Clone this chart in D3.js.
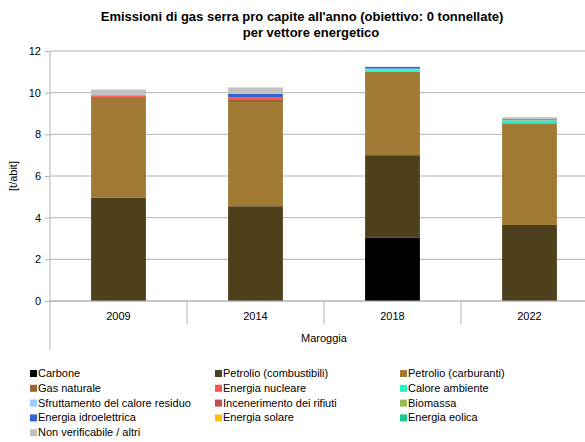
<!DOCTYPE html>
<html><head><meta charset="utf-8">
<script src="https://cdn.jsdelivr.net/npm/d3@7"></script>
<style>body{margin:0;background:#fff}svg{display:block;font-family:"Liberation Sans",Arial,sans-serif}</style>
</head><body><svg id="c" width="585" height="442"></svg>
<script>
const years = ["2009","2014","2018","2022"];
const seriesNames = ["Carbone","Petrolio (combustibili)","Petrolio (carburanti)","Gas naturale","Energia nucleare","Calore ambiente","Sfruttamento del calore residuo","Incenerimento dei rifiuti","Biomassa","Energia idroelettrica","Energia solare","Energia eolica","Non verificabile / altri"];
const seriesColors = ["#000000","#4d401c","#a07a35","#996633","#ff5050","#22f2c8","#99ccff","#c0504d","#9bbb59","#3366cc","#ffc000","#19c890","#c0c0c0"];
// values per series, per year [2009,2014,2018,2022]
const carbone      = [0, 0, 3.05, 0];
const petrolioComb = [4.95, 4.55, 3.95, 3.65];
const petrolioCarb = [4.8, 5.0, 4.0, 4.85];
const gasNaturale  = [0.05, 0.1, 0, 0.03];
const nucleare     = [0.05, 0.1, 0, 0];
const caloreAmb    = [0, 0, 0.12, 0.13];
const sfruttamento = [0.02, 0, 0.03, 0];
const incenerimento= [0, 0.03, 0, 0];
const biomassa     = [0, 0, 0, 0.02];
const idro         = [0.03, 0.17, 0.08, 0.04];
const solare       = [0, 0, 0, 0];
const eolica       = [0, 0, 0, 0.02];
const nonVerif     = [0.25, 0.3, 0.02, 0.08];
const yTicks = [0,2,4,6,8,10,12];
const allSeries = [carbone,petrolioComb,petrolioCarb,gasNaturale,nucleare,caloreAmb,sfruttamento,incenerimento,biomassa,idro,solare,eolica,nonVerif];

const svg = d3.select("#c");
const x = d3.scaleBand().domain(years).range([50, 598]);
const y = d3.scaleLinear().domain([0,12]).range([301, 51]);

// gridlines
svg.append("g").selectAll("line").data(yTicks).join("line")
  .attr("x1",50).attr("x2",585).attr("y1",d=>y(d)).attr("y2",d=>y(d))
  .attr("stroke","#b3b3b3").attr("stroke-width",1);

// bars
const rows = years.map((yr,i)=>{const o={year:yr}; seriesNames.forEach((s,j)=>o[s]=allSeries[j][i]); return o;});
const stack = d3.stack().keys(seriesNames)(rows);
const bw = x.bandwidth()*0.4;
svg.append("g").selectAll("g").data(stack).join("g")
  .attr("fill",(d,i)=>seriesColors[i])
  .selectAll("rect").data(d=>d).join("rect")
  .attr("x",d=>x(d.data.year)+(x.bandwidth()-bw)/2)
  .attr("width",bw)
  .attr("y",d=>y(d[1]))
  .attr("height",d=>Math.max(0,y(d[0])-y(d[1])));

// y axis
const yAxis = d3.axisLeft(y).tickValues(yTicks).tickSize(5).tickPadding(4);
const ga = svg.append("g").attr("transform","translate(50,0)").call(yAxis);
ga.select(".domain").remove();
ga.selectAll(".tick line").attr("stroke","#b3b3b3");
ga.selectAll("text").attr("font-size","11px").attr("fill","#000").attr("font-family","Liberation Sans, Arial, sans-serif");
svg.append("line").attr("x1",50).attr("x2",50).attr("y1",51).attr("y2",350).attr("stroke","#b3b3b3");

// x axis
svg.append("line").attr("x1",50).attr("x2",585).attr("y1",301).attr("y2",301).attr("stroke","#b3b3b3");
svg.append("g").selectAll("line").data(years.slice(1)).join("line")
  .attr("x1",d=>x(d)).attr("x2",d=>x(d)).attr("y1",301).attr("y2",324).attr("stroke","#b3b3b3");
svg.append("g").selectAll("text").data(years).join("text")
  .attr("x",d=>x(d)+x.bandwidth()/2).attr("y",320).attr("text-anchor","middle")
  .attr("font-size","11px").text(d=>d);
svg.append("text").attr("x",324).attr("y",342).attr("text-anchor","middle").attr("font-size","11px").text("Maroggia");

// y label
svg.append("text").attr("transform","translate(17,176) rotate(-90)").attr("text-anchor","middle").attr("font-size","11px").text("[t/abit]");

// title
svg.append("text").attr("x",302).attr("y",21).attr("text-anchor","middle").attr("font-size","13px").attr("font-weight","bold").text("Emissioni di gas serra pro capite all'anno (obiettivo: 0 tonnellate)");
svg.append("text").attr("x",311).attr("y",37).attr("text-anchor","middle").attr("font-size","13px").attr("font-weight","bold").text("per vettore energetico");

// legend
const lg = svg.append("g").selectAll("g").data(seriesNames).join("g")
  .attr("transform",(d,i)=>`translate(${[30,215,400][i%3]},${377+Math.floor(i/3)*14.8})`);
lg.append("rect").attr("x",0).attr("y",-7).attr("width",7).attr("height",7).attr("fill",(d,i)=>seriesColors[i]);
lg.append("text").attr("x",8).attr("y",0).attr("font-size","11px").text(d=>d);
</script></body></html>
